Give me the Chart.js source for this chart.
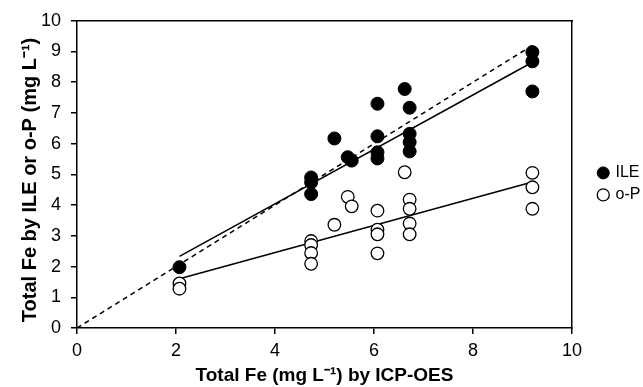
<!DOCTYPE html>
<html>
<head>
<meta charset="utf-8">
<script src="https://cdn.jsdelivr.net/npm/chart.js@4.4.1/dist/chart.umd.min.js"></script>
<style>
  html, body { margin: 0; padding: 0; background: #fff; }
  #wrap { width: 643px; height: 387px; }
</style>
</head>
<body>
<div id="wrap"><canvas id="canvas"></canvas></div>
<script>
/* Points: ILE (filled) and o-P (open). */
const ileX = [2.07, 4.73, 4.73, 4.73, 5.2, 5.47, 5.55, 6.07, 6.07, 6.07, 6.07, 6.62, 6.72, 6.72, 6.72, 6.72, 9.2, 9.2, 9.2]
const ileY = [1.98, 4.9, 4.74, 4.36, 6.17, 5.56, 5.45, 7.3, 6.24, 5.72, 5.52, 7.78, 7.17, 6.32, 6.05, 5.75, 8.98, 8.68, 7.7]
const opX = [2.07, 2.07, 4.73, 4.73, 4.73, 4.73, 5.2, 5.47, 5.55, 6.07, 6.07, 6.07, 6.07, 6.62, 6.72, 6.72, 6.72, 6.72, 9.2, 9.2, 9.2]
const opY = [1.45, 1.28, 2.83, 2.7, 2.44, 2.09, 3.36, 4.27, 3.96, 3.82, 3.2, 3.05, 2.43, 5.07, 4.18, 3.88, 3.4, 3.05, 5.05, 4.58, 3.88]

/* Fitted lines and the 1:1 line. */
const ileFitX = [2.07, 9.2]
const ileFitY = [2.33, 8.65]
const opFitX = [2.07, 9.2]
const opFitY = [1.6, 4.75]
const oneToOneX = [0, 9.2]
const oneToOneY = [0, 9.2]

const xTicks = [0, 2, 4, 6, 8, 10]
const yTicks = [0, 1, 2, 3, 4, 5, 6, 7, 8, 9, 10]

const toPoints = (xs, ys) => xs.map((x, i) => ({ x, y: ys[i] }))

const font = "'Liberation Sans', Arial, sans-serif"

/* Axis settings shared by the left and bottom axes. */
const axisGrid = { display: true, drawOnChartArea: false, drawTicks: true, tickLength: 6, color: "#000", lineWidth: 1.5 }
const axisBorder = { display: true, color: "#000", width: 1.5 }

/* Empty axes on the top and right that only draw the frame. */
const frameAxis = (position, size) => ({
  type: "linear",
  position,
  min: 0,
  max: 10,
  grid: { display: false, drawTicks: false },
  ticks: { display: false },
  border: { display: true, color: "#000", width: 1.5 },
  afterFit: axis => {
    if (position == "top") axis.height = size
    else axis.width = size
  }
})

const ctx = document.getElementById("canvas").getContext("2d")
const chart = new Chart(ctx, {
  type: "scatter",
  data: {
    datasets: [{
      label: "ILE",
      data: toPoints(ileX, ileY),
      pointRadius: 6.5,
      pointBackgroundColor: "#000",
      pointBorderColor: "#000",
      backgroundColor: "#000",
      borderColor: "#000",
      borderWidth: 1
    }, {
      label: "o-P",
      data: toPoints(opX, opY),
      pointRadius: 6.3,
      pointBackgroundColor: "#fff",
      pointBorderColor: "#000",
      pointBorderWidth: 1.3,
      backgroundColor: "#fff",
      borderColor: "#000",
      borderWidth: 1.3
    }, {
      label: "fit ILE",
      data: toPoints(ileFitX, ileFitY),
      showLine: true,
      pointRadius: 0,
      borderColor: "#000",
      borderWidth: 1.5
    }, {
      label: "fit o-P",
      data: toPoints(opFitX, opFitY),
      showLine: true,
      pointRadius: 0,
      borderColor: "#000",
      borderWidth: 1.5
    }, {
      label: "1:1",
      data: toPoints(oneToOneX, oneToOneY),
      showLine: true,
      pointRadius: 0,
      borderColor: "#000",
      borderWidth: 1.5,
      borderDash: [5, 4]
    }]
  },
  options: {
    responsive: true,
    maintainAspectRatio: false,
    animation: false,
    layout: {
      padding: { top: 20, right: 0, bottom: 0, left: 18 }
    },
    scales: {
      x: {
        type: "linear",
        min: 0,
        max: 10,
        afterBuildTicks: axis => { axis.ticks = xTicks.map(v => ({ value: v })) },
        afterFit: axis => { axis.height = 59 },
        grid: axisGrid,
        border: axisBorder,
        ticks: { color: "#000", font: { family: font, size: 18 }, padding: 6, maxRotation: 0 },
        title: {
          display: true,
          text: "Total Fe (mg L\u207B\u00B9) by ICP-OES",
          color: "#000",
          font: { family: font, size: 19, weight: "bold" },
          padding: { top: 0, bottom: 0 }
        }
      },
      y: {
        type: "linear",
        min: 0,
        max: 10,
        afterBuildTicks: axis => { axis.ticks = yTicks.map(v => ({ value: v })) },
        afterFit: axis => { axis.width = 59 },
        grid: axisGrid,
        border: axisBorder,
        ticks: { color: "#000", font: { family: font, size: 18 }, padding: 10 },
        title: {
          display: true,
          /* trailing spaces push the visible text down a little, as in the picture */
          text: "Total Fe by ILE or o-P (mg L\u207B\u00B9)\u00A0\u00A0",
          color: "#000",
          font: { family: font, size: 20, weight: "bold" },
          padding: { top: 0, bottom: 0 }
        }
      },
      xTop: frameAxis("top", 0),
      yRight: frameAxis("right", 21)
    },
    plugins: {
      legend: {
        position: "right",
        fullSize: false,
        maxWidth: 50,
        title: { display: true, text: "", font: { size: 10 }, padding: { top: 7, bottom: 0 } },
        labels: {
          usePointStyle: true,
          boxWidth: 8.5,
          boxHeight: 8.5,
          padding: 6,
          color: "#000",
          font: { family: font, size: 16 },
          filter: item => item.text === "ILE" || item.text === "o-P"
        }
      },
      tooltip: { enabled: false }
    }
  }
})
</script>
</body>
</html>
